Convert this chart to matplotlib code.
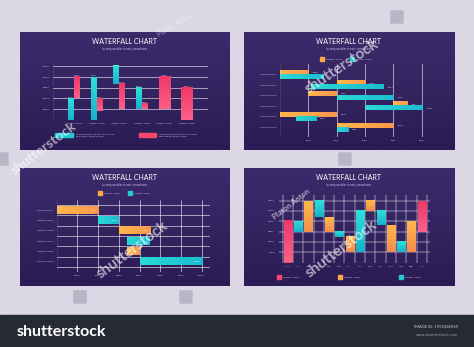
import numpy as np
import matplotlib.pyplot as plt
from matplotlib.colors import LinearSegmentedColormap
from matplotlib.patches import Rectangle, FancyBboxPatch

plt.rcParams['font.family'] = ['Lato', 'DejaVu Sans']

# ---- data ----
# panel 1: paired floating columns
p1_cats = ["LOREM IPSUM"] * 6
p1_teal_low = [0, 0, 33000, 10000, np.nan, np.nan]
p1_teal_high = [20000, 40000, 50000, 30000, np.nan, np.nan]
p1_pink_low = [20000, 8000, 10000, 10000, 10000, 0]
p1_pink_high = [40000, 20000, 34000, 15000, 40000, 30000]
p1_yticks = [10000, 20000, 30000, 40000, 50000]

# panel 2: timeline bars
p2_rows = ["PORTFOLIO 01", "PORTFOLIO 02", "PORTFOLIO 03",
           "PORTFOLIO 04", "PORTFOLIO 05", "PORTFOLIO 06"]
p2_years = [2018, 2019, 2020, 2021, 2022]
p2_orange_start = [2017, 2019, 2018, 2021, 2017, 2019]
p2_orange_end = [2018, 2020, 2019, 2021.5, 2019, 2021]
p2_teal_start = [2017, 2018.1, 2019, 2020.05, 2017.55, 2019]
p2_teal_end = [2018.55, 2020.65, 2021, 2022.05, 2018.27, 2019.4]
p2_orange_vals = ["61000", "55000", "41000", "5000", "38000", "57000"]
p2_teal_vals = ["24000", "67000", "29000", "17000", "13000", "11000"]

# panel 3: horizontal waterfall
p3_rows = ["PORTFOLIO 01", "PORTFOLIO 02", "PORTFOLIO 03",
           "PORTFOLIO 04", "PORTFOLIO 05", "PORTFOLIO 06"]
p3_start = [0, 20000, 30000, 34000, 34000, 40000]
p3_end = [20000, 30000, 45000, 45000, 40000, 70000]
p3_kind = ["o", "t", "o", "t", "o", "t"]
p3_xticks = [10000, 20000, 30000, 40000, 50000, 60000, 70000]

# panel 4: monthly waterfall
p4_months = ["START", "JAN", "FEB", "MAR", "APR", "MAY", "JUN",
             "JUL", "AUG", "SEP", "OCT", "NOV", "DEC", "END"]
p4_low = [0, 30000, 30000, 44000, 30000, 25000, 10000,
          10000, 50000, 36000, 10000, 10000, 10000, 30000]
p4_high = [40000, 40000, 60000, 60000, 44000, 30000, 25000,
           50000, 60000, 50000, 36000, 20000, 40000, 60000]
p4_kind = ["p", "t", "o", "t", "o", "t", "o", "t", "o", "t", "o", "t", "o", "p"]
p4_yticks = [10000, 20000, 30000, 40000, 50000, 60000]

TEAL = "#22c8d3"
PINK = "#f8466f"
ORANGE = "#fba84c"
COL = {"t": TEAL, "p": PINK, "o": ORANGE}
# gradient ends (start -> end: bottom->top for columns, left->right for bars)
GRADS = {
    "t": LinearSegmentedColormap.from_list("t", ["#19b0cb", "#2ee0d9"]),
    "p": LinearSegmentedColormap.from_list("p", ["#fb6189", "#ef3868"]),
    "o": LinearSegmentedColormap.from_list("o", ["#f58c50", "#ffb84a"]),
}
GRADS_H = {
    "t": LinearSegmentedColormap.from_list("th", ["#2ad9d6", "#1bbcd0"]),
    "o": LinearSegmentedColormap.from_list("oh", ["#ffb64c", "#f7984e"]),
}
LBL = "#cfc8ea"
GRID = (1, 1, 1, 0.10)
LOREM = "Lorem ipsum dolor sit amet, consectetuer"
TS = 1.7   # tick label size
VS = 1.4   # value label size

W, H = 474, 347
fig = plt.figure(figsize=(W / 100, H / 100), dpi=100, facecolor="#dbd7e4")


def px_axes(x0, y0, x1, y1):
    return fig.add_axes([x0 / W, 1 - y1 / H, (x1 - x0) / W, (y1 - y0) / H])


def ptext(x, y, s, **kw):
    fig.text(x / W, 1 - y / H, s, **kw)


def square(x, y, w, h, c):
    fig.add_artist(Rectangle((x / W, 1 - (y + h) / H), w / W, h / H,
                             color=c, transform=fig.transFigure))


def shade(ax, bars, cmap, horizontal=False):
    # paint a gradient over each bar rectangle
    for b in bars:
        x0, y0, w, h = b.get_x(), b.get_y(), b.get_width(), b.get_height()
        g = np.linspace(0, 1, 40)
        arr = g.reshape(1, -1) if horizontal else g.reshape(-1, 1)
        ax.imshow(arr, cmap=cmap, aspect="auto", origin="lower",
                  extent=[x0, x0 + w, y0, y0 + h], zorder=2)


grad = LinearSegmentedColormap.from_list("bg", ["#2b1c55", "#3c2b6b"])


def panel(x0, y0, x1, y1, title_y):
    ax = px_axes(x0, y0, x1, y1)
    ax.imshow(np.linspace(0, 1, 50).reshape(-1, 1)[::-1], cmap=grad,
              aspect="auto", extent=[0, 1, 0, 1])
    ax.axis("off")
    cx = (x0 + x1) / 2
    ptext(cx, title_y, "WATERFALL CHART", color="white", fontsize=5,
          ha="center", va="center")
    ptext(cx, title_y + 7, LOREM, color=LBL, fontsize=1.8, ha="center", va="center")


def style(ax):
    ax.set_facecolor("none")
    for s in ax.spines.values():
        s.set_visible(False)
    ax.tick_params(which="both", length=0, labelsize=TS, labelcolor=LBL, pad=2.5)


# ---------- panel 1 ----------
panel(20, 32, 230, 150, 42)
ax1 = px_axes(53, 61, 208, 119.7)
style(ax1)
x = np.arange(len(p1_cats))
for i in x:
    if not np.isnan(p1_teal_low[i]):
        b = ax1.bar(i - 0.13, p1_teal_high[i] - p1_teal_low[i], 0.26,
                    bottom=p1_teal_low[i], color=TEAL)
        shade(ax1, b, GRADS["t"])
        ax1.text(i - 0.13, p1_teal_high[i] + 700, f"{p1_teal_high[i]}",
                 fontsize=VS, color="white", ha="center", va="bottom")
        b = ax1.bar(i + 0.13, p1_pink_high[i] - p1_pink_low[i], 0.26,
                    bottom=p1_pink_low[i], color=PINK)
        shade(ax1, b, GRADS["p"])
        ax1.text(i + 0.13, p1_pink_high[i] + 700, f"{p1_pink_high[i]}",
                 fontsize=VS, color="white", ha="center", va="bottom")
    else:
        b = ax1.bar(i, p1_pink_high[i] - p1_pink_low[i], 0.52,
                    bottom=p1_pink_low[i], color=PINK)
        shade(ax1, b, GRADS["p"])
        ax1.text(i, p1_pink_high[i] + 700, f"{p1_pink_high[i]}",
                 fontsize=VS, color="white", ha="center", va="bottom")
ax1.set_xlim(-0.93, 5.93)
ax1.set_ylim(0, 55000)
ax1.set_yticks(p1_yticks)
ax1.set_xticks(x, p1_cats)
ax1.grid(axis="y", color=GRID, lw=0.4)
ax1.axvline(-0.93, color=GRID, lw=0.6)
ax1.set_axisbelow(True)
square(55, 133, 18, 4.5, TEAL)
ptext(76, 134, LOREM, color=LBL, fontsize=1.5, va="center")
ptext(76, 136.5, "adipiscing elit sed do eiusmod", color=LBL, fontsize=1.5, va="center")
square(139, 133, 17, 4.5, PINK)
ptext(159, 134, LOREM, color=LBL, fontsize=1.5, va="center")
ptext(159, 136.5, "adipiscing elit sed do eiusmod", color=LBL, fontsize=1.5, va="center")

# ---------- panel 2 ----------
panel(244, 32, 454, 150, 42)
ax2 = px_axes(280, 64, 430, 137)
style(ax2)
y = np.arange(len(p2_rows))
b = ax2.barh(y - 0.19, np.subtract(p2_orange_end, p2_orange_start), 0.38,
             left=p2_orange_start, color=ORANGE)
shade(ax2, b, GRADS_H["o"], horizontal=True)
b = ax2.barh(y + 0.19, np.subtract(p2_teal_end, p2_teal_start), 0.38,
             left=p2_teal_start, color=TEAL)
shade(ax2, b, GRADS_H["t"], horizontal=True)
for i in y:
    ax2.text(p2_orange_end[i] + 0.15, i - 0.19, p2_orange_vals[i],
             fontsize=VS, color="white", va="center")
    ax2.text(p2_teal_end[i] + 0.15, i + 0.19, p2_teal_vals[i],
             fontsize=VS, color="white", va="center")
ax2.set_xlim(2017, 2022.3)
ax2.set_ylim(5.89, -1.0)
ax2.set_yticks(y, p2_rows)
ax2.set_xticks(p2_years, [str(v) for v in p2_years])
ax2.grid(axis="x", color=GRID, lw=0.4)
ax2.axvline(2017, color=GRID, lw=0.6)
ax2.set_axisbelow(True)
square(320, 57, 4, 4, ORANGE)
ptext(326, 59, "LOREM IPSUM", color=LBL, fontsize=TS, va="center")
square(350, 57, 4, 4, TEAL)
ptext(356, 59, "LOREM IPSUM", color=LBL, fontsize=TS, va="center")

# ---------- panel 3 ----------
panel(20, 168, 230, 286, 178)
ax3 = px_axes(56.7, 200, 210, 272)
style(ax3)
y = np.arange(len(p3_rows))
for i in y:
    b = ax3.barh(i, p3_end[i] - p3_start[i], 0.68, left=p3_start[i],
                 color=COL[p3_kind[i]])
    shade(ax3, b, GRADS_H[p3_kind[i]], horizontal=True)
    ax3.text(p3_end[i] - 800, i, f"{p3_end[i] - p3_start[i]}", fontsize=VS,
             color="white", ha="right", va="center", zorder=3)
ax3.set_xlim(0, 74000)
ax3.set_ylim(6.0, -0.97)
ax3.set_yticks(y, p3_rows)
ax3.set_xticks(p3_xticks, [str(v) for v in p3_xticks])
ax3.set_yticks(np.arange(-0.5, 6.0, 1), minor=True)
ax3.grid(axis="x", color=GRID, lw=0.4)
ax3.grid(axis="y", which="minor", color=GRID, lw=0.4)
ax3.axvline(0, color=GRID, lw=0.6)
ax3.set_axisbelow(True)
square(98, 191, 4, 4, ORANGE)
ptext(104, 193, "LOREM IPSUM", color=LBL, fontsize=TS, va="center")
square(128, 191, 4, 4, TEAL)
ptext(134, 193, "LOREM IPSUM", color=LBL, fontsize=TS, va="center")

# ---------- panel 4 ----------
panel(244, 168, 454, 286, 178)
ax4 = px_axes(278.7, 195, 430, 262.5)
style(ax4)
x = np.arange(len(p4_months))
bars = ax4.bar(x, np.subtract(p4_high, p4_low), 0.8, bottom=p4_low,
               color=[COL[k] for k in p4_kind])
for bar, k in zip(bars, p4_kind):
    shade(ax4, [bar], GRADS[k])
ax4.set_xlim(-0.87, 13.78)
ax4.set_ylim(0, 65500)
ax4.set_yticks(p4_yticks)
ax4.set_xticks(x, p4_months)
for lab, k in zip(ax4.get_xticklabels(), p4_kind):
    if k == "p":
        lab.set_color(PINK)
ax4.set_xticks(np.arange(-0.5, 14, 1), minor=True)
ax4.grid(axis="y", color=GRID, lw=0.35)
ax4.grid(axis="x", which="minor", color=GRID, lw=0.35)
ax4.set_axisbelow(True)
for xx, k in [(277, "p"), (338, "o"), (399, "t")]:
    square(xx, 275, 4, 4, COL[k])
    ptext(xx + 6, 277, "LOREM IPSUM", color=LBL, fontsize=TS, va="center")

# ---------- watermark + footer ----------
wm = dict(color="white", alpha=0.6, fontweight="bold", ha="center", va="center")
ptext(342, 67, "shutterstock", fontsize=11, rotation=34, **wm)
ptext(132, 250, "shutterstock", fontsize=11, rotation=37, **wm)
ptext(341, 249, "shutterstock", fontsize=11, rotation=37, **wm)
ptext(44, 148, "shutterstock", fontsize=10, rotation=37, **wm)
ptext(291, 204, "Platon Anton", fontsize=5.5, rotation=38, **wm)
ptext(175, 25, "Platon Anton", fontsize=5, rotation=30,
      color="white", alpha=0.5, ha="center", va="center")
for (ix, iy) in [(391, 11), (339, 153), (74, 291), (180, 291), (-4, 153)]:
    fig.add_artist(FancyBboxPatch((ix / W, 1 - (iy + 12) / H), 12 / W, 12 / H,
                                  boxstyle="round,pad=0", color="#b9b5c6",
                                  transform=fig.transFigure))

square(0, 315, W, 32, "#262a34")
ptext(17, 332, "shutterstock", color="white", fontsize=11.5,
      fontweight="bold", va="center")
ptext(458, 327, "IMAGE ID: 1955386969", color="#c9ccd3", fontsize=3,
      ha="right", va="center")
ptext(458, 335, "www.shutterstock.com", color="#9a9ea8", fontsize=3,
      ha="right", va="center")

fig.savefig("out.png", dpi=100, facecolor=fig.get_facecolor())
